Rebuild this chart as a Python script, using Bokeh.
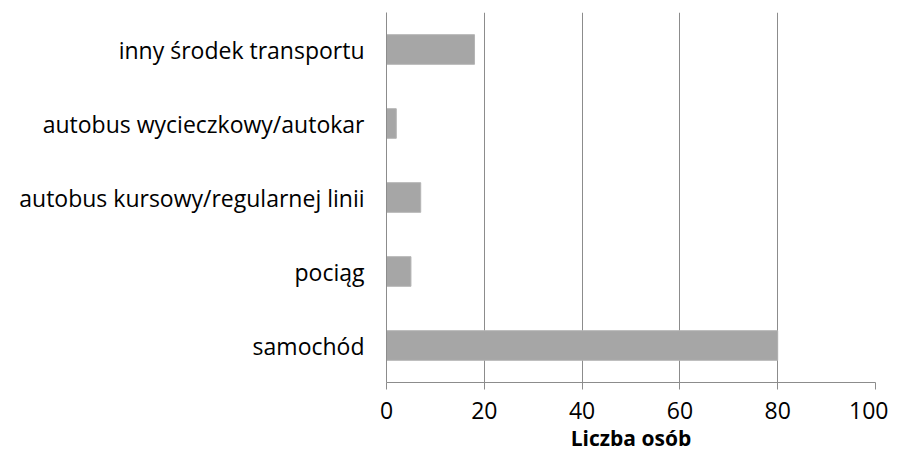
from bokeh.plotting import figure
from bokeh.models import Range1d, FactorRange, FixedTicker, ColumnDataSource
from bokeh.embed import file_html
from bokeh.resources import INLINE

categories = ["samochód", "pociąg", "autobus kursowy/regularnej linii",
              "autobus wycieczkowy/autokar", "inny środek transportu"]
values = [80, 5, 7, 2, 18]
x_ticks = [0, 20, 40, 60, 80, 100]
x_title = "Liczba osób"

FONT = "Open Sans"
GRID = "#8c8c8c"

src = ColumnDataSource(data=dict(cat=categories, val=values))

p = figure(width=888, height=454, y_range=FactorRange(*categories),
           x_range=Range1d(0, 100), output_backend="svg", toolbar_location=None,
           min_border_left=386, min_border_right=13, min_border_top=12, min_border_bottom=67)
p.outline_line_color = None
p.background_fill_color = "white"
p.border_fill_color = "white"

p.hbar(y="cat", right="val", left=0, height=0.4, source=src,
       fill_color="#a6a6a6", line_color="#b4b4b4", line_width=1)

p.xaxis.ticker = FixedTicker(ticks=x_ticks)
p.xgrid.ticker = FixedTicker(ticks=x_ticks[1:])
p.xgrid.grid_line_color = GRID
p.xgrid.grid_line_width = 1
p.ygrid.grid_line_color = None

p.xaxis.axis_line_color = GRID
p.xaxis.major_tick_line_color = GRID
p.xaxis.major_tick_in = 0
p.xaxis.major_tick_out = 7
p.xaxis.minor_tick_line_color = None
p.xaxis.major_label_text_font = FONT
p.xaxis.major_label_text_font_size = "23px"
p.xaxis.major_label_text_color = "#000000"
p.xaxis.major_label_standoff = 12
p.xaxis.axis_label = x_title
p.xaxis.axis_label_text_font = FONT
p.xaxis.axis_label_text_font_size = "21px"
p.xaxis.axis_label_text_font_style = "bold"
p.xaxis.axis_label_text_color = "#000000"
p.xaxis.axis_label_standoff = 2

p.yaxis.axis_line_color = GRID
p.yaxis.major_tick_line_color = None
p.yaxis.minor_tick_line_color = None
p.yaxis.major_tick_out = 0
p.yaxis.major_tick_in = 0
p.yaxis.major_label_text_font = FONT
p.yaxis.major_label_text_font_size = "23px"
p.yaxis.major_label_text_color = "#000000"
p.yaxis.major_label_standoff = 22

open("out.html", "w").write(file_html(p, INLINE))
